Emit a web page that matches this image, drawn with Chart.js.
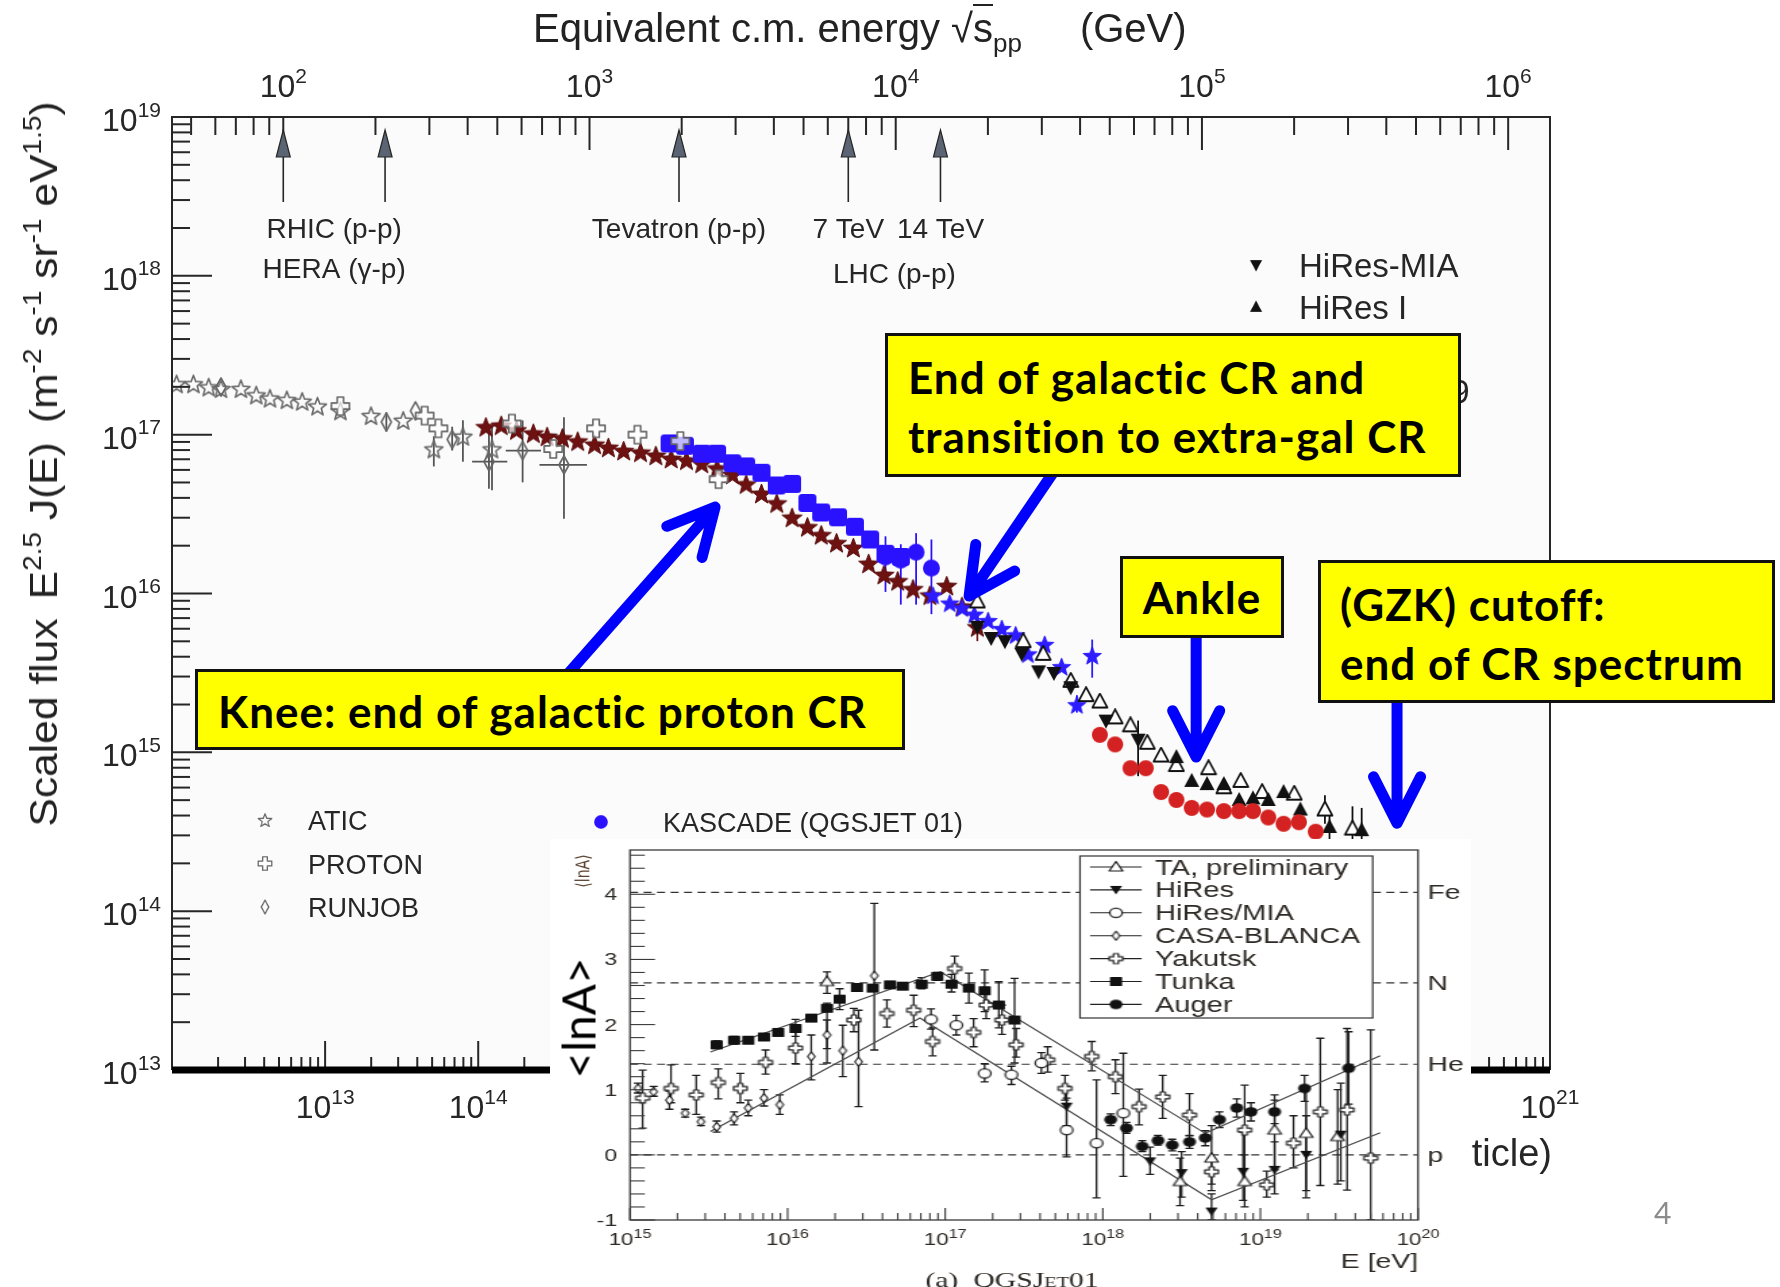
<!DOCTYPE html>
<html>
<head>
<meta charset="utf-8">
<title>Cosmic ray energy spectrum</title>
<script src="https://cdn.jsdelivr.net/npm/chart.js@4.4.1/dist/chart.umd.min.js"></script>
<style>
  html, body { margin: 0; padding: 0; background: #fff; }
  #page { position: relative; width: 1780px; height: 1287px; overflow: hidden;
          font-family: "Liberation Sans", Arial, sans-serif; color: #222; }
  #spectrum { position: absolute; left: 0; top: 0; }
  .title { position: absolute; white-space: nowrap; color: #222; }
  #topTitle { left: 533px; top: 5px; font-size: 40px; line-height: 46px; }
  #topTitle .bar { border-top: 2px solid #222; }
  #topTitle sub { font-size: 26px; vertical-align: -10px; line-height: 0; }
  #topTitle .unit { margin-left: 58px; }
  #yTitle { left: 44px; top: 464px; font-size: 38px; line-height: 44px;
            transform: translate(-50%, -50%) rotate(-90deg) scaleX(1.12); }
  #yTitle sup { font-size: 25px; vertical-align: 16px; line-height: 0; }
  #yTitle .gap { display: inline-block; width: 17px; }
  #panel { position: absolute; left: 550px; top: 839px; width: 921px; height: 448px;
           background: #fff; overflow: hidden; }
  #panelInner { width: 682px; height: 448px; transform-origin: 0 0; transform: scaleX(1.35044); }
  .note { position: absolute; box-sizing: border-box; background: #ffff00; border: 3px solid #111;
          font-family: Lato, "Open Sans", sans-serif; font-weight: 700; font-size: 44px;
          letter-spacing: 1px; color: #000; white-space: nowrap; }
  #bigLnA { position: absolute; left: 578px; top: 1018px; font-family: Lato, sans-serif; font-size: 46px;
            color: #000; transform: translate(-50%, -50%) rotate(-90deg); white-space: nowrap; }
  #slideNo { position: absolute; left: 1654px; top: 1194px; font-family: Lato, sans-serif;
             font-size: 30px; color: #8c8c8c; }
</style>
</head>
<body>
<div id="page">
  <canvas id="spectrum" width="1780" height="1287"></canvas>
  <div class="title" id="topTitle">Equivalent c.m. energy √<span class="bar">s</span><sub>pp</sub><span class="unit">(GeV)</span></div>
  <div class="title" id="yTitle">Scaled flux<span class="gap"></span>E<sup>2.5</sup> J(E)<span class="gap"></span>(m<sup>-2</sup> s<sup>-1</sup> sr<sup>-1</sup> eV<sup>1.5</sup>)</div>
  <div id="panel"><div id="panelInner"><canvas id="lnA" width="682" height="448"></canvas></div></div>
  <div id="bigLnA">&lt;lnA&gt;</div>
  <div class="note" style="left:195px;top:669px;width:710px;height:81px;line-height:78px;padding-left:20px">Knee: end of galactic proton CR</div>
  <div class="note" style="left:885px;top:333px;width:576px;height:144px;line-height:59px;padding:12px 0 0 20px">End of galactic CR and<br>transition to extra-gal CR</div>
  <div class="note" style="left:1120px;top:556px;width:164px;height:82px;line-height:76px;text-align:center">Ankle</div>
  <div class="note" style="left:1318px;top:560px;width:457px;height:143px;line-height:59px;padding:12px 0 0 19px">(GZK) cutoff:<br>end of CR spectrum</div>
  <div id="slideNo">4</div>
</div>

<script>
// ---------- all-particle spectrum: [log10(E/eV), log10(E^2.5 J), (lo, hi), (E lo, E hi)] ----------
const atic = [
  [12.03, 17.32], [12.14, 17.32], [12.24, 17.30], [12.32, 17.29], [12.45, 17.29], [12.55, 17.25],
  [12.64, 17.23], [12.75, 17.22], [12.85, 17.21], [12.95, 17.18], [13.10, 17.15], [13.30, 17.12],
  [13.51, 17.09], [13.71, 16.91, 16.80, 16.99], [13.90, 16.99, 16.83, 17.09], [14.09, 16.91, 16.65, 17.05]
];
const proton = [
  [13.10, 17.18], [13.65, 17.12], [13.74, 17.04], [14.22, 17.07], [14.49, 16.91],
  [14.77, 17.04], [15.04, 17.00], [15.32, 16.96], [15.57, 16.72]
];
const runjob = [
  [12.32, 17.30], [13.40, 17.08, 17.02, 17.14], [13.59, 17.15], [13.83, 16.97, 16.90, 17.05],
  [14.07, 16.83, 16.66, 17.05, 13.96, 14.19], [14.29, 16.90, 16.70, 17.09, 14.18, 14.41],
  [14.56, 16.81, 16.47, 17.11, 14.40, 14.71]
];
const tibet = [
  [14.05, 17.05], [14.15, 17.06], [14.25, 17.03], [14.36, 17.01], [14.45, 16.99], [14.55, 16.98],
  [14.65, 16.96], [14.76, 16.94], [14.85, 16.92], [14.95, 16.90], [15.06, 16.89], [15.16, 16.87],
  [15.26, 16.85], [15.36, 16.84], [15.46, 16.82], [15.56, 16.79], [15.66, 16.75], [15.75, 16.69],
  [15.85, 16.63], [15.95, 16.57], [16.05, 16.48], [16.15, 16.42], [16.24, 16.37], [16.34, 16.32],
  [16.45, 16.29], [16.55, 16.19], [16.65, 16.12], [16.74, 16.08], [16.84, 16.03], [16.95, 15.99],
  [17.06, 16.05], [17.16, 15.92], [17.26, 15.79, 15.70, 15.86]
];
const kascadeQgs = [
  [15.25, 16.945], [15.35, 16.93], [15.46, 16.88], [15.56, 16.88], [15.66, 16.82], [15.75, 16.80],
  [15.85, 16.76], [15.95, 16.68], [16.05, 16.69], [16.15, 16.57], [16.24, 16.51], [16.35, 16.48],
  [16.46, 16.42], [16.56, 16.34], [16.66, 16.25], [16.76, 16.23]
];
const kascadeSib = [
  [16.66, 16.23, 16.01, 16.36], [16.76, 16.21, 15.93, 16.31], [16.86, 16.26, 15.93, 16.38],
  [16.96, 16.16, 15.87, 16.34]
];
const grande = [
  [16.97, 15.99], [17.08, 15.94], [17.16, 15.91], [17.24, 15.87], [17.33, 15.83], [17.42, 15.78],
  [17.51, 15.74], [17.59, 15.62], [17.70, 15.68], [17.81, 15.54], [17.91, 15.30, 15.25, 15.36],
  [18.01, 15.61, 15.47, 15.71]
];
const hiresMia = [
  [17.26, 15.79], [17.35, 15.72], [17.44, 15.70], [17.55, 15.62], [17.66, 15.51], [17.76, 15.50],
  [17.87, 15.41], [18.10, 15.20], [18.31, 15.08, 14.85, 15.20]
];
const hiresOne = [
  [18.56, 14.97], [18.66, 14.82], [18.76, 14.80], [18.87, 14.80], [18.97, 14.70], [19.06, 14.71],
  [19.16, 14.70], [19.26, 14.75], [19.37, 14.64], [19.56, 14.53, 14.45, 14.62], [19.77, 14.51, 14.43, 14.65]
];
const hiresTwo = [
  [17.26, 15.95], [17.56, 15.70], [17.69, 15.62], [17.87, 15.45], [17.97, 15.36], [18.06, 15.32],
  [18.16, 15.22], [18.26, 15.17], [18.37, 15.06], [18.46, 14.98], [18.56, 14.92], [18.77, 14.90],
  [18.87, 14.78], [18.98, 14.82], [19.12, 14.75], [19.33, 14.74], [19.53, 14.64, 14.55, 14.73],
  [19.71, 14.52, 14.44, 14.66]
];
const auger2009 = [
  [18.06, 15.11], [18.16, 15.05], [18.26, 14.90], [18.36, 14.90], [18.46, 14.75], [18.56, 14.70],
  [18.66, 14.65], [18.76, 14.64], [18.87, 14.63], [18.97, 14.63], [19.06, 14.63], [19.16, 14.59],
  [19.26, 14.55], [19.36, 14.56], [19.47, 14.50]
];

// collider energies, sqrt(s) in GeV
const colliderRoots = [100, 215, 1960, 7000, 14000];
// annotation pointers: [log10 E, log10 flux] tail -> head
const pointers = [
  [[14.55, 15.455], [15.547, 16.544]],
  [[17.764, 16.773], [17.206, 15.984]],
  [[18.689, 15.77], [18.689, 14.97]],
  [[20.001, 15.36], [20.001, 14.554]]
];

// ---------- mean log mass: [log10(E/eV), <lnA>, lo, hi] ----------
const taLnA = [
  [16.25, 2.66, 2.48, 2.81], [18.49, -0.41, -0.78, -0.05], [18.69, -0.05, -0.55, 0.45],
  [18.90, -0.41, -0.80, 0.00], [19.09, 0.38, -0.23, 0.92], [19.29, 0.33, -0.66, 1.03],
  [19.49, 0.28, -0.45, 1.00]
];
const hiresLnA = [
  [17.77, 0.74, 0.45, 1.05], [18.30, -0.10, -0.30, 0.12], [18.50, -0.28, -0.65, 0.05],
  [18.69, -0.87, -1.00, -0.60], [18.89, -0.26, -0.70, 0.35], [19.09, -0.23, -0.60, 0.20],
  [19.29, 0.00, -0.55, 0.60], [19.51, 0.31, -0.40, 1.10]
];
const hiresMiaLnA = [
  [16.91, 2.08, 1.93, 2.24], [17.07, 1.99, 1.84, 2.14], [17.25, 1.25, 1.12, 1.40],
  [17.42, 1.23, 1.08, 1.36], [17.61, 1.41, 1.25, 1.57], [17.77, 0.38, -0.03, 0.87],
  [17.96, 0.18, -0.66, 1.15], [18.13, 0.64, -0.33, 1.56]
];
const casaLnA = [
  [15.05, 1.02, 0.95, 1.10], [15.15, 0.97, 0.90, 1.05], [15.25, 0.84, 0.70, 0.98],
  [15.35, 0.64, 0.58, 0.70], [15.45, 0.51, 0.45, 0.58], [15.55, 0.43, 0.35, 0.52],
  [15.66, 0.56, 0.46, 0.66], [15.75, 0.72, 0.60, 0.84], [15.85, 0.87, 0.75, 1.00],
  [15.95, 0.77, 0.62, 0.92], [16.15, 1.51, 1.15, 1.84], [16.25, 1.84, 1.41, 2.07],
  [16.35, 1.60, 1.20, 1.99], [16.45, 1.43, 0.74, 2.22], [16.55, 2.75, 1.61, 3.86]
];
const yakutskLnA = [
  [15.08, 0.87, 0.41, 1.30], [15.26, 1.02, 0.80, 1.38], [15.42, 0.92, 0.62, 1.22],
  [15.56, 1.11, 0.86, 1.32], [15.70, 1.02, 0.80, 1.25], [15.86, 1.42, 1.24, 1.61],
  [16.05, 1.64, 1.40, 1.88], [16.42, 2.07, 1.89, 2.25], [16.63, 2.17, 1.96, 2.38],
  [16.80, 2.22, 1.97, 2.45], [16.92, 1.74, 1.52, 1.95], [17.06, 2.86, 2.66, 3.05],
  [17.18, 1.88, 1.66, 2.09], [17.26, 2.30, 2.09, 2.53], [17.36, 2.07, 1.85, 2.30],
  [17.45, 1.69, 1.50, 1.94], [17.65, 1.46, 1.27, 1.66], [17.76, 1.02, 0.84, 1.22],
  [17.93, 1.51, 1.29, 1.74], [18.08, 1.20, 0.94, 1.46], [18.23, 0.74, 0.46, 1.01],
  [18.38, 0.89, 0.56, 1.22], [18.55, 0.61, 0.29, 0.94], [18.69, -0.26, -0.45, -0.05],
  [18.90, 0.38, -0.42, 1.07], [19.04, -0.46, -0.65, -0.25], [19.21, 0.18, -0.20, 0.60],
  [19.38, 0.66, -0.47, 1.79], [19.55, 0.69, -0.54, 1.94], [19.70, -0.05, -1.00, 1.92]
];
const tunkaLnA = [
  [15.55, 1.69, 1.63, 1.75], [15.66, 1.76, 1.70, 1.82], [15.75, 1.76, 1.71, 1.81],
  [15.85, 1.81, 1.76, 1.86], [15.94, 1.88, 1.83, 1.93], [16.05, 1.94, 1.82, 2.08],
  [16.15, 2.10, 2.05, 2.15], [16.25, 2.25, 1.63, 2.33], [16.33, 2.39, 2.23, 2.55],
  [16.44, 2.57, 2.52, 2.62], [16.54, 2.56, 2.51, 2.61], [16.65, 2.61, 2.56, 2.66],
  [16.73, 2.59, 2.54, 2.64], [16.85, 2.62, 2.55, 2.72], [16.95, 2.74, 2.68, 2.80],
  [17.04, 2.62, 2.50, 2.77], [17.15, 2.56, 2.33, 2.79], [17.25, 2.52, 2.20, 2.84],
  [17.34, 2.30, 1.95, 2.66], [17.44, 2.07, 1.41, 2.71]
];
const augerLnA = [
  [18.05, 0.54, 0.45, 0.63], [18.15, 0.41, 0.33, 0.50], [18.25, 0.13, 0.05, 0.22],
  [18.35, 0.22, 0.15, 0.30], [18.44, 0.15, 0.06, 0.24], [18.55, 0.20, 0.10, 0.30],
  [18.65, 0.26, 0.14, 0.37], [18.74, 0.54, 0.42, 0.66], [18.85, 0.72, 0.58, 0.86],
  [18.94, 0.66, 0.52, 0.80], [19.09, 0.66, 0.48, 0.84], [19.28, 1.02, 0.82, 1.22],
  [19.56, 1.33, 0.78, 1.89]
];
// broken-line expectations for heavy and light limits
const bandUpper = [[15.51, 1.58], [16.97, 2.81], [18.65, 0.33], [19.76, 1.52]];
const bandLower = [[15.51, 0.36], [16.84, 2.10], [18.69, -0.69], [19.76, 0.34]];
const massNames = ['Fe', 'N', 'He', 'p'];
const massLnA = [4.03, 2.64, 1.39, 0];

// ---------- helpers ----------
const FONT = '"Liberation Sans", Arial, Helvetica, sans-serif';
const INK = '#262626';
const sqrtS = e => Math.sqrt(2 * 0.938 * e / 1e9);   // fixed-target E (eV) -> sqrt(s) (GeV)

function sprite(w, h, paint) {
  const c = document.createElement('canvas');
  c.width = w; c.height = h;
  const g = c.getContext('2d');
  g.translate(w / 2, h / 2);
  g.lineJoin = 'round';
  paint(g);
  return c;
}
function finish(g, fill, stroke, lw) {
  if (fill) { g.fillStyle = fill; g.fill(); }
  if (stroke) { g.strokeStyle = stroke; g.lineWidth = lw; g.stroke(); }
}
function star(R, fill, stroke, lw) {
  const s = Math.ceil(R * 2 + 4);
  return sprite(s, s, g => {
    g.beginPath();
    for (let i = 0; i < 10; i++) {
      const a = -Math.PI / 2 + i * Math.PI / 5, r = i % 2 ? R * 0.42 : R;
      g.lineTo(r * Math.cos(a), r * Math.sin(a) + R * 0.1);
    }
    g.closePath();
    finish(g, fill, stroke, lw);
  });
}
function poly(pts, w, h, fill, stroke, lw) {
  return sprite(w, h, g => {
    g.beginPath();
    pts.forEach(([x, y]) => g.lineTo(x, y));
    g.closePath();
    finish(g, fill, stroke, lw);
  });
}
function cross(a, L, fill, stroke, lw) {
  const p = [[-a, -L], [a, -L], [a, -a], [L, -a], [L, a], [a, a], [a, L], [-a, L], [-a, a], [-L, a], [-L, -a], [-a, -a]];
  const s = Math.ceil(L * 2 + 4);
  return poly(p, s, s, fill, stroke, lw);
}
function disc(r, fill, stroke, lw) {
  const s = Math.ceil(r * 2 + 4);
  return sprite(s, s, g => { g.beginPath(); g.arc(0, 0, r, 0, Math.PI * 2); finish(g, fill, stroke, lw); });
}
function roundSquare(s, r, fill) {
  return sprite(s + 2, s + 2, g => {
    g.beginPath();
    g.roundRect(-s / 2, -s / 2, s, s, r);
    finish(g, fill);
  });
}

const marks = {
  atic: star(9.5, null, '#6a6a6a', 1.7),
  tibet: star(10.5, '#6d1111', '#5a0c0c', 1),
  grande: star(9.5, '#2c1cff', '#2c1cff', 1),
  proton: cross(3.2, 9, 'rgba(255,255,255,0.7)', '#666', 1.7),
  runjob: poly([[0, -9], [5, 0], [0, 9], [-5, 0]], 14, 22, null, '#666', 1.7),
  kascadeSq: roundSquare(18, 3.5, '#2b12ff'),
  kascadeDot: disc(8.5, '#2b12ff'),
  hiresDown: poly([[-7.5, -6], [7.5, -6], [0, 8]], 18, 18, '#111'),
  hiresUp: poly([[0, -8], [7.5, 6], [-7.5, 6]], 18, 18, '#111'),
  hiresOpen: poly([[0, -8], [7.5, 6], [-7.5, 6]], 18, 18, '#fff', '#111', 1.8),
  augerDot: disc(8, '#d42222')
};
const small = {
  ta: poly([[0, -5.5], [5, 4], [-5, 4]], 14, 14, '#fff', '#1a1a1a', 1.2),
  hires: poly([[-4.5, -4], [4.5, -4], [0, 4.5]], 12, 12, '#111'),
  mia: disc(4.6, '#fff', '#1a1a1a', 1.2),
  casa: poly([[0, -4.5], [2.8, 0], [0, 4.5], [-2.8, 0]], 9, 12, '#fff', '#1a1a1a', 1.1),
  yakutsk: cross(1.8, 5, '#fff', '#1a1a1a', 1.2),
  tunka: roundSquare(9, 0.5, '#111'),
  auger: disc(4.8, '#111')
};

function tenTo(ctx, exp, x, y, base, sup, align) {
  ctx.font = base + 'px ' + FONT;
  const w1 = ctx.measureText('10').width;
  ctx.font = sup + 'px ' + FONT;
  const w2 = ctx.measureText(String(exp)).width;
  const x0 = align === 'right' ? x - w1 - w2 : x - (w1 + w2) / 2;
  ctx.textAlign = 'left';
  ctx.font = base + 'px ' + FONT;
  ctx.fillText('10', x0, y);
  ctx.font = sup + 'px ' + FONT;
  ctx.fillText(String(exp), x0 + w1, y - base * 0.45);
}
function seg(ctx, x0, y0, x1, y1) {
  ctx.beginPath(); ctx.moveTo(x0, y0); ctx.lineTo(x1, y1); ctx.stroke();
}

// vertical / horizontal error bars stored on each point
const errorBars = {
  id: 'errorBars',
  beforeDatasetsDraw(chart, args, opts) {
    const { ctx, chartArea: a } = chart;
    ctx.save();
    ctx.beginPath(); ctx.rect(a.left, a.top, a.right - a.left, a.bottom - a.top); ctx.clip();
    chart.data.datasets.forEach(ds => {
      if (!ds.errColor) return;
      const xs = chart.scales.x, ys = chart.scales.y;
      ctx.strokeStyle = ds.errColor;
      ctx.lineWidth = opts.width || 1.6;
      ds.data.forEach(p => {
        const px = xs.getPixelForValue(p.x);
        if (p.yLo !== undefined) {
          const y0 = ys.getPixelForValue(p.yLo), y1 = ys.getPixelForValue(p.yHi);
          seg(ctx, px, y0, px, y1);
          if (opts.cap) { seg(ctx, px - opts.cap, y0, px + opts.cap, y0); seg(ctx, px - opts.cap, y1, px + opts.cap, y1); }
        }
        if (p.xLo !== undefined) {
          const py = ys.getPixelForValue(p.y);
          seg(ctx, xs.getPixelForValue(p.xLo), py, xs.getPixelForValue(p.xHi), py);
        }
      });
    });
    ctx.restore();
  }
};

// ---------- spectrum chart ----------
function logPoints(rows) {
  return rows.map(r => {
    const p = { x: 10 ** r[0], y: 10 ** r[1] };
    if (r.length > 3) { p.yLo = 10 ** r[2]; p.yHi = 10 ** r[3]; }
    if (r.length > 5) { p.xLo = 10 ** r[4]; p.xHi = 10 ** r[5]; }
    return p;
  });
}
function spectrumSet(label, rows, img, errColor) {
  return { label, data: logPoints(rows), pointStyle: img, pointRadius: 8, errColor };
}

const spectrumFrame = {
  id: 'spectrumFrame',
  beforeDatasetsDraw(chart) {
    const { ctx, chartArea: a } = chart;
    ctx.save();
    ctx.fillStyle = '#fbfbfb';
    ctx.fillRect(a.left, a.top, a.right - a.left, a.bottom - a.top);
    ctx.restore();
  },
  afterDatasetsDraw(chart) {
    const { ctx, chartArea: a, scales } = chart;
    const xs = scales.x, ys = scales.y, cm = scales.cm;
    ctx.save();
    ctx.strokeStyle = INK; ctx.fillStyle = INK; ctx.lineWidth = 2;
    ctx.beginPath();
    ctx.moveTo(a.left, a.bottom); ctx.lineTo(a.left, a.top); ctx.lineTo(a.right, a.top); ctx.lineTo(a.right, a.bottom);
    ctx.stroke();

    for (let d = 13; d <= 19; d++) {
      for (let m = 1; m <= 9; m++) {
        if (d === 19 && m > 1) break;
        const py = ys.getPixelForValue(m * 10 ** d);
        seg(ctx, a.left, py, a.left + (m === 1 ? 40 : 18), py);
      }
      tenTo(ctx, d, 161, ys.getPixelForValue(10 ** d) + 14, 32, 21, 'right');
    }
    for (let d = 12; d <= 21; d++) {
      for (let m = 1; m <= 9; m++) {
        if (d === 21 && m > 1) break;
        const px = xs.getPixelForValue(m * 10 ** d);
        seg(ctx, px, a.bottom, px, a.bottom - (m === 1 ? 29 : 13));
      }
      if (d >= 13) tenTo(ctx, d, xs.getPixelForValue(10 ** d), 1118, 32, 21, 'center');
    }
    for (let d = 1; d <= 6; d++) {
      for (let m = 1; m <= 9; m++) {
        const v = m * 10 ** d;
        if (v < cm.min || v > cm.max) continue;
        const px = cm.getPixelForValue(v);
        seg(ctx, px, a.top, px, a.top + (m === 1 ? 33 : 18));
      }
      if (d >= 2) tenTo(ctx, d, cm.getPixelForValue(10 ** d), 97, 32, 21, 'center');
    }
    ctx.strokeStyle = '#000'; ctx.lineWidth = 7;
    seg(ctx, a.left, a.bottom, a.right, a.bottom);

    // collider markers
    const cx = colliderRoots.map(s => cm.getPixelForValue(s));
    cx.forEach(px => {
      ctx.strokeStyle = INK; ctx.lineWidth = 1.6;
      seg(ctx, px, 202, px, 150);
      ctx.beginPath(); ctx.moveTo(px, 130); ctx.lineTo(px + 7, 157); ctx.lineTo(px - 7, 157); ctx.closePath();
      ctx.fillStyle = '#5b6472'; ctx.fill(); ctx.lineWidth = 1.2; ctx.stroke();
    });
    ctx.fillStyle = INK; ctx.textAlign = 'center'; ctx.font = '28px ' + FONT;
    ctx.fillText('RHIC (p-p)', (cx[0] + cx[1]) / 2, 238);
    ctx.fillText('HERA (γ-p)', (cx[0] + cx[1]) / 2, 278);
    ctx.fillText('Tevatron (p-p)', cx[2], 238);
    ctx.fillText('7 TeV', cx[3], 238);
    ctx.fillText('14 TeV', cx[4], 238);
    ctx.fillText('LHC (p-p)', (cx[3] + cx[4]) / 2, 283);

    // legends
    const put = (img, x, y, k) => ctx.drawImage(img, x - img.width * k / 2, y - img.height * k / 2, img.width * k, img.height * k);
    ctx.textAlign = 'left'; ctx.font = '27px ' + FONT;
    [[marks.atic, 'ATIC'], [marks.proton, 'PROTON'], [marks.runjob, 'RUNJOB']].forEach(([img, t], i) => {
      const cy = 820 + i * 43.5;
      put(img, 265, cy, 0.75);
      ctx.fillText(t, 308, cy + 10);
    });
    put(marks.kascadeDot, 601, 822, 0.8);
    ctx.fillText('KASCADE (QGSJET 01)', 663, 832);
    ctx.font = '33px ' + FONT;
    [[marks.hiresDown, 'HiRes-MIA'], [marks.hiresUp, 'HiRes I'], [marks.hiresOpen, 'HiRes II'], [marks.augerDot, 'Auger 2009']]
      .forEach(([img, t], i) => {
        const cy = 265 + i * 42;
        put(img, 1256, cy, 0.8);
        ctx.fillText(t, 1299, cy + 12);
      });
    ctx.textAlign = 'right'; ctx.font = '38px ' + FONT;
    ctx.fillText('Energy  (eV/particle)', 1552, 1166);

    // blue pointers
    ctx.strokeStyle = '#0000ff'; ctx.lineWidth = 11; ctx.lineCap = 'round'; ctx.lineJoin = 'round';
    pointers.forEach(([t, h]) => {
      const x0 = xs.getPixelForValue(10 ** t[0]), y0 = ys.getPixelForValue(10 ** t[1]);
      const x1 = xs.getPixelForValue(10 ** h[0]), y1 = ys.getPixelForValue(10 ** h[1]);
      const ang = Math.atan2(y1 - y0, x1 - x0), L = 52, sp = 0.47;
      ctx.beginPath();
      ctx.moveTo(x0, y0); ctx.lineTo(x1, y1);
      ctx.moveTo(x1 - L * Math.cos(ang - sp), y1 - L * Math.sin(ang - sp));
      ctx.lineTo(x1, y1);
      ctx.lineTo(x1 - L * Math.cos(ang + sp), y1 - L * Math.sin(ang + sp));
      ctx.stroke();
    });
    ctx.restore();
  }
};

new Chart(document.getElementById('spectrum'), {
  type: 'scatter',
  data: {
    datasets: [
      spectrumSet('PROTON', proton, marks.proton),
      spectrumSet('Auger 2009', auger2009, marks.augerDot),
      spectrumSet('HiRes I', hiresOne, marks.hiresUp, '#111'),
      spectrumSet('HiRes-MIA', hiresMia, marks.hiresDown, '#111'),
      spectrumSet('HiRes II', hiresTwo, marks.hiresOpen, '#111'),
      spectrumSet('KASCADE-Grande', grande, marks.grande, '#2c1cff'),
      spectrumSet('KASCADE (SIBYLL 2.1)', kascadeSib, marks.kascadeDot, '#2b12ff'),
      spectrumSet('KASCADE (QGSJET 01)', kascadeQgs, marks.kascadeSq),
      spectrumSet('Tibet', tibet, marks.tibet, '#6d1111'),
      spectrumSet('RUNJOB', runjob, marks.runjob, '#555'),
      spectrumSet('ATIC', atic, marks.atic, '#555')
    ]
  },
  options: {
    responsive: false, animation: false, devicePixelRatio: 1, events: [],
    layout: { padding: { left: 172, top: 117, right: 230, bottom: 217 } },
    plugins: { legend: { display: false }, tooltip: { enabled: false }, errorBars: { width: 1.8 } },
    scales: {
      x: { type: 'logarithmic', min: 1e12, max: 1e21, display: false },
      y: { type: 'logarithmic', min: 1e13, max: 1e19, display: false },
      cm: { type: 'logarithmic', axis: 'x', position: 'top', min: sqrtS(1e12), max: sqrtS(1e21), display: false }
    }
  },
  plugins: [spectrumFrame, errorBars]
});

// ---------- <lnA> panel (drawn narrow, stretched by CSS) ----------
const STRETCH = 921 / 682;
const toPanel = v => (v - 550) / STRETCH;

function lnaPoints(rows) {
  return rows.map(r => ({ x: 10 ** r[0], y: r[1], yLo: r[2], yHi: r[3] }));
}
function lnaSet(label, rows, img) {
  return { label, data: lnaPoints(rows), pointStyle: img, pointRadius: 4, errColor: '#1e1e1e' };
}
function bandSet(rows) {
  return {
    type: 'line', data: rows.map(r => ({ x: 10 ** r[0], y: r[1] })), showLine: true,
    borderColor: '#4a4a4a', borderWidth: 1.2, pointRadius: 0, fill: false, tension: 0
  };
}

const lnaLegend = [
  ['TA, preliminary', small.ta], ['HiRes', small.hires], ['HiRes/MIA', small.mia],
  ['CASA-BLANCA', small.casa], ['Yakutsk', small.yakutsk], ['Tunka', small.tunka], ['Auger', small.auger]
];

const panelDecor = {
  id: 'panelDecor',
  beforeDatasetsDraw(chart) {
    const { ctx, chartArea: a, scales: { y } } = chart;
    ctx.save();
    ctx.strokeStyle = '#333'; ctx.lineWidth = 1.1; ctx.setLineDash([6, 4]);
    massLnA.forEach(v => { const py = y.getPixelForValue(v); seg(ctx, a.left, py, a.right, py); });
    ctx.restore();
  },
  afterDatasetsDraw(chart) {
    const { ctx, chartArea: a, scales: { x, y } } = chart;
    const ink = '#2e2a26';
    ctx.save();
    ctx.strokeStyle = '#3a3a3a'; ctx.fillStyle = ink; ctx.lineWidth = 1.3;
    ctx.strokeRect(a.left, a.top, a.right - a.left, a.bottom - a.top);
    ctx.lineWidth = 1.1;
    for (let v = -1; v <= 4.61; v += 0.2) {
      const py = y.getPixelForValue(v), major = Math.abs(v - Math.round(v)) < 1e-6;
      seg(ctx, a.left, py, a.left + (major ? 18.5 : 11), py);
    }
    for (let d = 15; d <= 20; d++) {
      for (let m = 1; m <= 9; m++) {
        if (d === 20 && m > 1) break;
        const px = x.getPixelForValue(m * 10 ** d);
        seg(ctx, px, a.bottom, px, a.bottom - (m === 1 ? 12 : 7));
      }
      tenTo(ctx, d, x.getPixelForValue(10 ** d), 406, 16.5, 12, 'center');
    }
    ctx.textAlign = 'right'; ctx.font = '17px ' + FONT;
    for (let v = -1; v <= 4; v++) ctx.fillText(String(v), 49.6, y.getPixelForValue(v) + 6);

    ctx.textAlign = 'left'; ctx.font = '21px ' + FONT;
    massNames.forEach((n, i) => ctx.fillText(n, a.right + 7, y.getPixelForValue(massLnA[i]) + 7));

    ctx.textAlign = 'right'; ctx.font = '21px ' + FONT;
    ctx.fillText('E [eV]', a.right, 429);

    ctx.textAlign = 'left';
    ctx.font = '22px "Liberation Serif", serif';
    ctx.fillText('(a)  QGSJ', 278, 448);
    let w = ctx.measureText('(a)  QGSJ').width;
    ctx.font = '15px "Liberation Serif", serif';
    ctx.fillText('ET', 278 + w, 448);
    w += ctx.measureText('ET').width;
    ctx.font = '22px "Liberation Serif", serif';
    ctx.fillText('01', 278 + w, 448);

    ctx.save();
    ctx.translate(24.4, 32); ctx.rotate(-Math.PI / 2);
    ctx.textAlign = 'center'; ctx.font = '14px "DejaVu Sans", sans-serif'; ctx.fillStyle = '#5a4030';
    ctx.fillText('⟨lnA⟩', 0, 5);
    ctx.restore();

    // legend box
    const l0 = toPanel(1080), l1 = toPanel(1372.7);
    ctx.fillStyle = '#fff'; ctx.fillRect(l0, 17, l1 - l0, 162);
    ctx.strokeStyle = '#333'; ctx.lineWidth = 1.2; ctx.strokeRect(l0, 17, l1 - l0, 162);
    ctx.fillStyle = ink; ctx.font = '21.5px ' + FONT;
    lnaLegend.forEach(([t, img], i) => {
      const cy = 28 + i * 22.9, mx = toPanel(1116);
      ctx.lineWidth = 1.1; ctx.strokeStyle = '#222';
      seg(ctx, toPanel(1090), cy, toPanel(1141.7), cy);
      ctx.drawImage(img, mx - img.width / 2, cy - img.height / 2);
      ctx.fillText(t, toPanel(1155), cy + 7.5);
    });
    ctx.restore();
  }
};

new Chart(document.getElementById('lnA'), {
  type: 'scatter',
  data: {
    datasets: [
      lnaSet('Auger', augerLnA, small.auger),
      lnaSet('Tunka', tunkaLnA, small.tunka),
      lnaSet('HiRes', hiresLnA, small.hires),
      lnaSet('TA, preliminary', taLnA, small.ta),
      lnaSet('HiRes/MIA', hiresMiaLnA, small.mia),
      lnaSet('Yakutsk', yakutskLnA, small.yakutsk),
      lnaSet('CASA-BLANCA', casaLnA, small.casa),
      bandSet(bandUpper),
      bandSet(bandLower)
    ]
  },
  options: {
    responsive: false, animation: false, devicePixelRatio: 1, events: [],
    layout: { padding: { left: toPanel(630), top: 11, right: 682 - toPanel(1418), bottom: 67 } },
    plugins: { legend: { display: false }, tooltip: { enabled: false }, errorBars: { width: 1.3, cap: 3 } },
    scales: {
      x: { type: 'logarithmic', min: 1e15, max: 1e20, display: false },
      y: { type: 'linear', min: -1, max: 4.68, display: false }
    }
  },
  plugins: [panelDecor, errorBars]
});
</script>
</body>
</html>
